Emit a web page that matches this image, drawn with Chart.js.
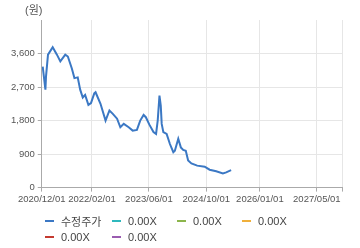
<!DOCTYPE html>
<html>
<head>
<meta charset="utf-8">
<script src="https://cdn.jsdelivr.net/npm/chart.js@4/dist/chart.umd.min.js"></script>
<style>
  html, body { margin: 0; padding: 0; background: #fff; }
  #wrap { position: relative; width: 360px; height: 248px; font-family: "Liberation Sans", "Noto Sans CJK KR", sans-serif; }
  #unit { position: absolute; left: 25px; top: 1px; font-size: 11px; color: #555; }
  #legend { position: absolute; left: 45px; top: 213px; display: grid;
            grid-template-columns: 67px 65px 65px auto; grid-auto-rows: 16px; font-size: 11px; color: #444; }
  #legend .item { display: flex; align-items: center; }
  #legend .mark { width: 9px; height: 2px; margin-right: 7px; }
</style>
</head>
<body>
<div id="wrap">
  <canvas id="chart1"></canvas>
  <div id="unit">(원)</div>
  <div id="legend"></div>
</div>
<script>
// price series (수정주가)
const dates = ['2020-12-09','2021-01-01','2021-01-06','2021-01-23','2021-03-04','2021-04-09','2021-05-08',
  '2021-06-19','2021-07-11','2021-08-14','2021-09-05','2021-10-03','2021-10-24','2021-11-15','2021-12-05',
  '2022-01-02','2022-01-24','2022-02-21','2022-03-04','2022-04-15','2022-05-28','2022-06-30','2022-07-29',
  '2022-09-03','2022-10-01','2022-10-30','2022-12-11','2023-01-14','2023-02-19','2023-03-19','2023-04-17',
  '2023-05-06','2023-06-05','2023-07-10','2023-08-01','2023-08-15','2023-08-30','2023-09-10','2023-09-18',
  '2023-10-02','2023-10-30','2023-11-27','2023-12-26','2024-01-08','2024-02-06','2024-02-28','2024-03-19',
  '2024-04-10','2024-04-30','2024-05-28','2024-07-16','2024-09-18','2024-10-30','2024-12-25','2025-02-20',
  '2025-03-20','2025-05-01'];
const prices = [3250,2630,2980,3570,3770,3570,3390,
  3570,3520,3200,2940,2960,2630,2420,2490,
  2220,2270,2530,2560,2250,1800,2070,1980,
  1850,1620,1710,1620,1530,1550,1800,1950,
  1890,1690,1490,1440,1800,2470,2200,1710,
  1490,1440,1170,950,990,1310,1080,1010,
  990,730,650,590,560,480,440,380,
  410,470];

const seriesNames = ['수정주가','0.00X','0.00X','0.00X','0.00X','0.00X'];
const seriesColors = ['#3b78c4','#2fb8bd','#8cb54c','#f0b03c','#c43a30','#9a5cb0'];

const xTickDates = ['2020-12-01','2022-02-01','2023-06-01','2024-10-01','2026-01-01','2027-05-01'];
const xTickLabels = ['2020/12/01','2022/02/01','2023/06/01','2024/10/01','2026/01/01','2027/05/01'];
const xStart = '2020-12-01';
const xEnd = '2027-12-01';
const yMax = 4500;
const yStep = 900;

const dayOf = s => (Date.parse(s) - Date.parse(xStart)) / 86400000;

const datasets = seriesNames.map((name, i) => ({
  label: name,
  data: i === 0 ? dates.map((d, j) => ({ x: dayOf(d), y: prices[j] })) : [],
  borderColor: seriesColors[i],
  backgroundColor: seriesColors[i],
  borderWidth: 2,
  pointRadius: 0,
  tension: 0
}));

const tickFont = { family: '"Liberation Sans", sans-serif', size: 9.5 };

const chart = new Chart(document.getElementById('chart1'), {
  type: 'line',
  data: { datasets: datasets },
  options: {
    responsive: true,
    maintainAspectRatio: false,
    animation: false,
    layout: { padding: { left: 8, right: 18, top: 20, bottom: 41 } },
    plugins: { legend: { display: false }, tooltip: { enabled: false } },
    scales: {
      x: {
        type: 'linear',
        min: 0,
        max: dayOf(xEnd),
        afterBuildTicks: scale => {
          scale.ticks = xTickDates.map(d => ({ value: dayOf(d) })).concat([{ value: dayOf(xEnd) }]);
        },
        ticks: {
          autoSkip: false, maxRotation: 0, color: '#555', font: tickFont, padding: 2,
          callback: (v, i) => xTickLabels[i] || ''
        },
        grid: { color: '#e6e6e6', tickColor: '#aaa', tickLength: 4 },
        border: { color: '#aaa' }
      },
      y: {
        min: 0,
        max: yMax,
        ticks: {
          stepSize: yStep, color: '#555', font: tickFont, padding: 3,
          callback: v => v === yMax ? '' : v.toLocaleString('en-US')
        },
        grid: {
          color: c => c.tick && c.tick.value === yMax ? 'rgba(0,0,0,0)' : '#e6e6e6',
          tickColor: c => c.tick && c.tick.value === yMax ? 'rgba(0,0,0,0)' : '#aaa',
          tickLength: 4
        },
        border: { color: '#aaa' }
      }
    }
  }
});

// legend
const legend = document.getElementById('legend');
chart.data.datasets.forEach(ds => {
  const item = document.createElement('div');
  item.className = 'item';
  item.innerHTML = '<span class="mark" style="background:' + ds.borderColor + '"></span><span>' + ds.label + '</span>';
  legend.appendChild(item);
});
</script>
</body>
</html>
